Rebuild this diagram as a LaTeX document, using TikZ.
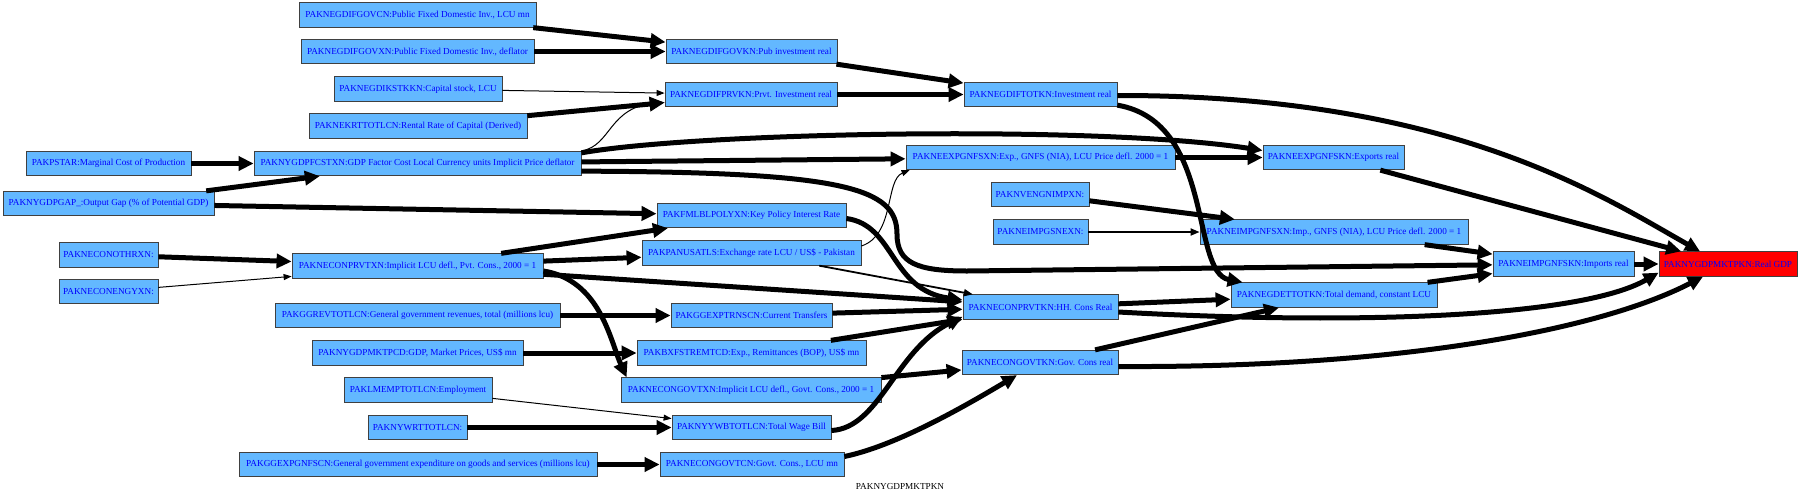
\documentclass[tikz,border=0pt]{standalone}
\usepackage{fontspec}
\setmainfont{Liberation Serif}
\usetikzlibrary{arrows.meta}

\definecolor{boxblue}{RGB}{99,184,255}
\definecolor{boxedge}{RGB}{64,64,64}

\begin{document}
\begin{tikzpicture}[x=1pt, y=-1pt,
    box/.style={draw=boxedge, fill=boxblue, text=blue, line width=0.8pt, inner xsep=1pt, inner ysep=0pt,
        minimum height=24.5pt, font=\fontsize{9.2}{11}\selectfont},
    bigedge/.style={line width=5pt, -{Triangle[length=15pt,width=14pt]}},
    thinedge/.style={line width=1pt, -{Triangle[length=8pt,width=6pt]}},
    midedge/.style={line width=1.8pt, -{Triangle[length=9pt,width=7pt]}}]
    \useasboundingbox (0,0) rectangle (1800,496);

    \node[box, minimum width=237pt] (GOVCN) at (417.5,15) {PAKNEGDIFGOVCN:Public Fixed Domestic Inv., LCU mn};
    \node[box, minimum width=233pt] (GOVXN) at (417.5,51.5) {PAKNEGDIFGOVXN:Public Fixed Domestic Inv., deflator};
    \node[box, minimum width=168pt] (KSTKKN) at (418,89) {PAKNEGDIKSTKKN:Capital stock, LCU};
    \node[box, minimum width=218pt] (KRTTOT) at (418,126) {PAKNEKRTTOTLCN:Rental Rate of Capital (Derived)};
    \node[box, minimum width=165pt] (PSTAR) at (108.5,163.5) {PAKPSTAR:Marginal Cost of Production};
    \node[box, minimum width=327pt] (FCSTXN) at (417.5,163.5) {PAKNYGDPFCSTXN:GDP Factor Cost Local Currency units Implicit Price deflator};
    \node[box, minimum width=211pt] (GAP) at (108.5,203.5) {PAKNYGDPGAP\_:Output Gap (\% of Potential GDP)};
    \node[box, minimum width=99pt] (OTHRXN) at (108.5,255) {PAKNECONOTHRXN:};
    \node[box, minimum width=99pt] (ENGYXN) at (108.5,291.5) {PAKNECONENGYXN:};
    \node[box, minimum width=251pt] (PRVTXN) at (417.5,266) {PAKNECONPRVTXN:Implicit LCU defl., Pvt. Cons., 2000 = 1};
    \node[box, minimum width=285pt] (REVTOT) at (417.5,315.5) {PAKGGREVTOTLCN:General government revenues, total (millions lcu)};
    \node[box, minimum width=211pt] (MKTPCD) at (417.5,353) {PAKNYGDPMKTPCD:GDP, Market Prices, US\$ mn};
    \node[box, minimum width=148pt] (EMPTOT) at (418,390) {PAKLMEMPTOTLCN:Employment};
    \node[box, minimum width=99pt] (WRTTOT) at (417.5,427.5) {PAKNYWRTTOTLCN:};
    \node[box, minimum width=358pt] (GNFSCN) at (418,464.5) {PAKGGEXPGNFSCN:General government expenditure on goods and services (millions lcu)};

    \node[box, minimum width=171pt] (GOVKN) at (751.5,51.5) {PAKNEGDIFGOVKN:Pub investment real};
    \node[box, minimum width=172pt] (PRVKN) at (751,94.5) {PAKNEGDIFPRVKN:Prvt. Investment real};
    \node[box, minimum width=189pt] (POLYXN) at (751.5,215.5) {PAKFMLBLPOLYXN:Key Policy Interest Rate};
    \node[box, minimum width=219pt] (PANUS) at (751.5,253) {PAKPANUSATLS:Exchange rate LCU / US\$ - Pakistan};
    \node[box, minimum width=161pt] (TRNSCN) at (751.5,315.5) {PAKGGEXPTRNSCN:Current Transfers};
    \node[box, minimum width=229pt] (REMTCD) at (751.5,353) {PAKBXFSTREMTCD:Exp., Remittances (BOP), US\$ mn};
    \node[box, minimum width=260pt] (GOVTXN) at (751,390) {PAKNECONGOVTXN:Implicit LCU defl., Govt. Cons., 2000 = 1};
    \node[box, minimum width=159pt] (YWBTOT) at (751.5,427.5) {PAKNYYWBTOTLCN:Total Wage Bill};
    \node[box, minimum width=184pt] (GOVTCN) at (752,464.5) {PAKNECONGOVTCN:Govt. Cons., LCU mn};

    \node[box, minimum width=153pt] (TOTKN) at (1040.5,94.5) {PAKNEGDIFTOTKN:Investment real};
    \node[box, minimum width=269pt] (EXPXN) at (1040.5,157.5) {PAKNEEXPGNFSXN:Exp., GNFS (NIA), LCU Price defl. 2000 = 1};
    \node[box, minimum width=98pt] (NVENG) at (1040,194.5) {PAKNVENGNIMPXN:};
    \node[box, minimum width=95pt] (IMPGSNEX) at (1040.5,232) {PAKNEIMPGSNEXN:};
    \node[box, minimum width=155pt] (PRVTKN) at (1040.5,307) {PAKNECONPRVTKN:HH. Cons Real};
    \node[box, minimum width=156pt] (GOVTKN) at (1040,362.5) {PAKNECONGOVTKN:Gov. Cons real};

    \node[box, minimum width=141pt] (EXPKN) at (1333.5,157.5) {PAKNEEXPGNFSKN:Exports real};
    \node[box, minimum width=268pt] (IMPXN) at (1334,232) {PAKNEIMPGNFSXN:Imp., GNFS (NIA), LCU Price defl. 2000 = 1};
    \node[box, minimum width=206pt] (DETTOT) at (1334,295) {PAKNEGDETTOTKN:Total demand, constant LCU};
    \node[box, minimum width=141pt] (IMPKN) at (1563.5,264) {PAKNEIMPGNFSKN:Imports real};
    \node[box, fill=red, minimum width=138pt] (MKTPKN) at (1728,264) {PAKNYGDPMKTPKN:Real GDP};

    \node[font=\fontsize{9.2}{11}\selectfont] (title) at (900,486) {PAKNYGDPMKTPKN};

    \draw[bigedge] (GOVCN) -- (GOVKN);
    \draw[bigedge] (GOVXN) -- (GOVKN);
    \draw[thinedge] (KSTKKN) -- (PRVKN);
    \draw[bigedge] (KRTTOT) -- (PRVKN);
    \draw[thinedge] (FCSTXN.north east) .. controls (612,146) and (608,106) .. ([yshift=-8pt]PRVKN.west);
    \draw[bigedge] (GOVKN) -- (TOTKN);
    \draw[bigedge] (PRVKN) -- (TOTKN);
    \draw[bigedge] ([yshift=-1pt]TOTKN.east) .. controls (1450,95) and (1600,195) .. ([xshift=-28pt]MKTPKN.north);
    \draw[bigedge] ([yshift=2pt]TOTKN.south east) .. controls (1215,122) and (1190,272) .. ([xshift=12pt]DETTOT.north west);
    \draw[bigedge] (PSTAR) -- (FCSTXN);
    \draw[bigedge] (GAP) -- (FCSTXN);
    \draw[bigedge] (GAP) -- (POLYXN);
    \draw[bigedge] ([yshift=-2pt]FCSTXN.north east) .. controls (700,132) and (1100,125) .. ([yshift=7pt]EXPKN.west);
    \draw[bigedge] (FCSTXN) -- (EXPXN);
    \draw[bigedge] ([yshift=5pt]FCSTXN.south east) .. controls (845,172) and (897,188) .. (897,234)
        .. controls (897,263) and (917,271) .. (967,271) -- (IMPKN);
    \draw[bigedge] (OTHRXN) -- (PRVTXN);
    \draw[thinedge] (ENGYXN) -- (PRVTXN);
    \draw[bigedge] (PRVTXN) -- (POLYXN);
    \draw[bigedge] (PRVTXN) -- (PANUS);
    \draw[bigedge] (PRVTXN) -- (PRVTKN);
    \draw[bigedge] ([yshift=-5pt]PRVTXN.east) .. controls (600,280) and (610,340) .. ([xshift=6pt]GOVTXN.north west);
    \draw[bigedge] ([yshift=-3pt]POLYXN.east) .. controls (895,225) and (890,290) .. ([yshift=7pt]PRVTKN.west);
    \draw[thinedge] ([yshift=7pt]PANUS.east) .. controls (895,235) and (885,180) .. ([xshift=4pt]EXPXN.south west);
    \draw[midedge] (PANUS) -- (PRVTKN);
    \draw[bigedge] (REVTOT) -- (TRNSCN);
    \draw[bigedge] (TRNSCN) -- (PRVTKN);
    \draw[bigedge] (MKTPCD) -- (REMTCD);
    \draw[bigedge] (REMTCD) -- (PRVTKN);
    \draw[bigedge] (GOVTXN) -- (GOVTKN);
    \draw[thinedge] (EMPTOT) -- (YWBTOT);
    \draw[bigedge] (WRTTOT) -- (YWBTOT);
    \draw[bigedge] ([yshift=-3pt]YWBTOT.east) .. controls (880,428) and (895,350) .. ([yshift=3pt]PRVTKN.south west);
    \draw[bigedge] (GNFSCN) -- (GOVTCN);
    \draw[bigedge] ([yshift=8pt]GOVTCN.east) .. controls (900,445) and (975,400) .. ([xshift=-23pt]GOVTKN.south);
    \draw[bigedge] (PRVTKN) -- (DETTOT);
    \draw[bigedge] ([yshift=-5pt]PRVTKN.east) .. controls (1350,325) and (1580,318) .. ([yshift=4pt]MKTPKN.south west);
    \draw[bigedge] (GOVTKN) -- (DETTOT);
    \draw[bigedge] ([yshift=-4pt]GOVTKN.east) .. controls (1400,368) and (1600,330) .. ([xshift=-25pt]MKTPKN.south);
    \draw[bigedge] (NVENG) -- (IMPXN);
    \draw[midedge] (IMPGSNEX) -- (IMPXN);
    \draw[bigedge] (IMPXN) -- (IMPKN);
    \draw[bigedge] (DETTOT) -- (IMPKN);
    \draw[bigedge] (EXPXN) -- (EXPKN);
    \draw[bigedge] (EXPKN) -- (MKTPKN);
    \draw[bigedge] (IMPKN) -- (MKTPKN);
\end{tikzpicture}
\end{document}
